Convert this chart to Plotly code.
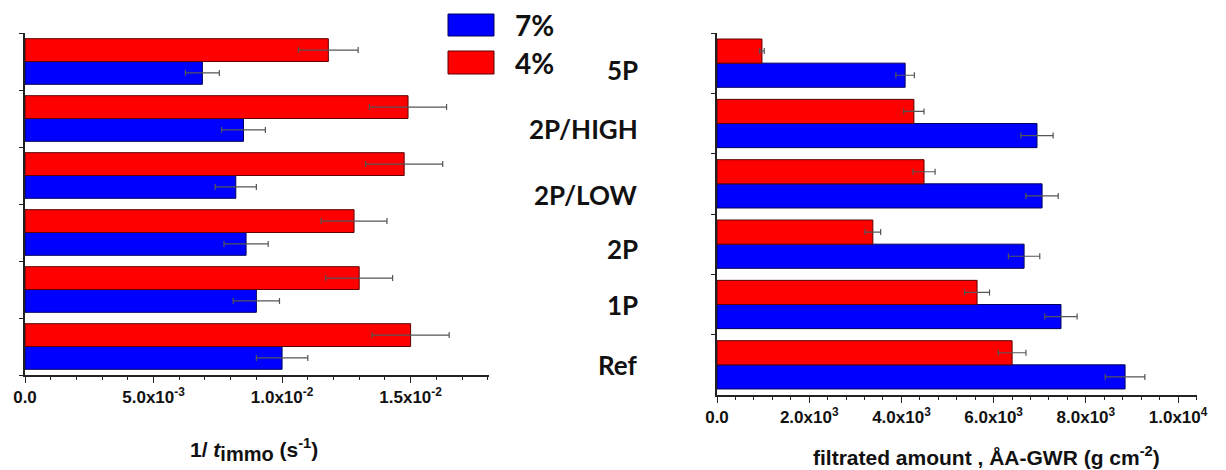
import plotly.graph_objects as go

categories = ["Ref", "1P", "2P", "2P/LOW", "2P/HIGH", "5P"]

# Left panel: 1/t_immo (s^-1)
left_7 = [0.0100, 0.0090, 0.0086, 0.0082, 0.0085, 0.0069]
left_7_err = [0.0010, 0.0009, 0.00086, 0.0008, 0.00085, 0.00066]
left_4 = [0.0150, 0.0130, 0.0128, 0.01475, 0.0149, 0.0118]
left_4_err = [0.0015, 0.0013, 0.00128, 0.0015, 0.0015, 0.00116]

# Right panel: filtrated amount (g cm^-2)
right_7 = [8850, 7460, 6660, 7050, 6940, 4080]
right_7_err = [430, 350, 340, 350, 350, 200]
right_4 = [6400, 5640, 3380, 4490, 4270, 975]
right_4_err = [300, 270, 170, 240, 220, 50]

left_tickvals = [0, 0.005, 0.01, 0.015]
left_ticktext = ["<b>0.0</b>", "<b>5.0x10<sup>-3</sup></b>", "<b>1.0x10<sup>-2</sup></b>", "<b>1.5x10<sup>-2</sup></b>"]
right_tickvals = [0, 2000, 4000, 6000, 8000, 10000]
right_ticktext = ["<b>0.0</b>", "<b>2.0x10<sup>3</sup></b>", "<b>4.0x10<sup>3</sup></b>",
                  "<b>6.0x10<sup>3</sup></b>", "<b>8.0x10<sup>3</sup></b>", "<b>1.0x10<sup>4</sup></b>"]

BLUE = "#0000FF"
RED = "#FF0000"
ERR = "#555555"

fig = go.Figure()

def add_pair(vals7, err7, vals4, err4, xa, ya):
    fig.add_trace(go.Bar(
        y=categories, x=vals7, orientation="h", name="7%",
        marker=dict(color=BLUE, line=dict(color="#00005a", width=1)),
        error_x=dict(type="data", array=err7, color=ERR, thickness=1.2, width=3),
        xaxis=xa, yaxis=ya, showlegend=False))
    fig.add_trace(go.Bar(
        y=categories, x=vals4, orientation="h", name="4%",
        marker=dict(color=RED, line=dict(color="#5a0000", width=1)),
        error_x=dict(type="data", array=err4, color=ERR, thickness=1.2, width=3),
        xaxis=xa, yaxis=ya, showlegend=False))

add_pair(left_7, left_7_err, left_4, left_4_err, "x", "y")
add_pair(right_7, right_7_err, right_4, right_4_err, "x2", "y2")

W, H = 1226, 470
axfont = dict(family="Liberation Sans, Arial", size=17, color="#111")

common_x = dict(tickmode="array", tickfont=axfont, showline=True, linecolor="#222", linewidth=1.5,
                ticks="outside", ticklen=6, tickcolor="#222", showgrid=False, zeroline=False,
                automargin=False)
common_y = dict(range=[-0.5, 5.5], type="category", showticklabels=False, showline=True,
                linecolor="#222", linewidth=1.5, ticks="outside", ticklen=4,
                tickson="boundaries", tickcolor="#222", showgrid=False, zeroline=False,
                automargin=False)

fig.update_layout(
    width=W, height=H,
    margin=dict(l=0, r=0, t=0, b=0, autoexpand=False),
    paper_bgcolor="white", plot_bgcolor="white",
    barmode="group", bargap=0.2, bargroupgap=0,
    xaxis=dict(domain=[25 / W, 489 / W], range=[0, 0.01805], anchor="y",
               tickvals=left_tickvals, ticktext=left_ticktext,
               minor=dict(tickmode="linear", tick0=0, dtick=0.001, ticks="outside",
                          ticklen=3, tickcolor="#222", showgrid=False), **common_x),
    yaxis=dict(domain=[(H - 375) / H, (H - 33) / H], anchor="x", **common_y),
    xaxis2=dict(domain=[717 / W, 1197 / W], range=[0, 10410], anchor="y2",
                tickvals=right_tickvals, ticktext=right_ticktext,
                minor=dict(tickmode="linear", tick0=0, dtick=400, ticks="outside",
                           ticklen=3, tickcolor="#222", showgrid=False), **common_x),
    yaxis2=dict(domain=[(H - 395) / H, (H - 33) / H], anchor="x2", **common_y),
)

# Category labels in the middle, tied to right-panel categories
label_shift = [0, 0, -5, -11, -5, -7]
for cat, ys in zip(categories, label_shift):
    fig.add_annotation(x=640 / W, xref="paper", y=cat, yref="y2", yshift=ys,
                       text=cat, showarrow=False, xanchor="right", yanchor="middle",
                       font=dict(family="Lato, Open Sans", size=26, color="#111", weight="bold"))

# Legend drawn manually (large swatches)
legend_items = [("7%", BLUE, "#00005a", 14, 36), ("4%", RED, "#5a0000", 51, 74)]
for name, col, lcol, top, bot in legend_items:
    fig.add_shape(type="rect", xref="paper", yref="paper",
                  x0=448 / W, x1=494 / W, y0=1 - bot / H, y1=1 - top / H,
                  fillcolor=col, line=dict(color=lcol, width=1))
    fig.add_annotation(x=513 / W, xref="paper", y=1 - ((top + bot) / 2) / H, yref="paper",
                       text=name, showarrow=False, xanchor="left", yanchor="middle",
                       font=dict(family="Lato, Open Sans", size=28, color="#111", weight="bold"))

# Axis titles
fig.add_annotation(x=254 / W, xref="paper", y=1 - 450 / H, yref="paper",
                   text="1/ <i>t</i><sub><span style='font-size:20px'>immo</span></sub> (s<sup>-1</sup>)",
                   showarrow=False, xanchor="center", yanchor="middle",
                   font=dict(family="Liberation Sans, Arial", size=21, color="#111", weight="bold"))
fig.add_annotation(x=986 / W, xref="paper", y=1 - 456 / H, yref="paper",
                   text="filtrated amount , ÅA-GWR (g cm<sup>-2</sup>)", showarrow=False,
                   xanchor="center", yanchor="middle",
                   font=dict(family="Liberation Sans, Arial", size=21, color="#111", weight="bold"))

fig.write_html("out.html")
